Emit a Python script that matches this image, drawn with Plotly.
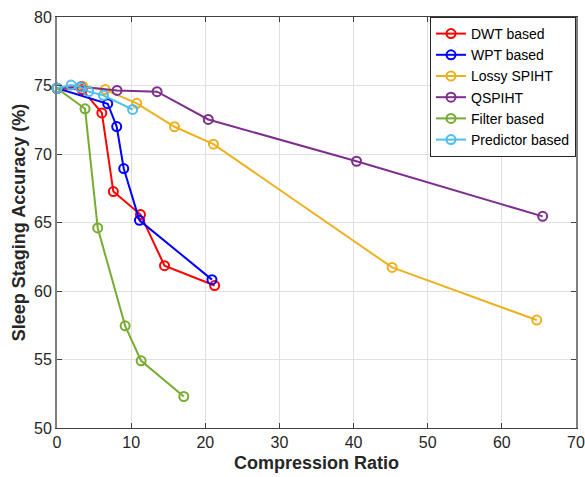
import plotly.graph_objects as go

names = ["DWT based", "WPT based", "Lossy SPIHT", "QSPIHT", "Filter based", "Predictor based"]
colors = ["#FF0000", "#0000FF", "#EDB120", "#7E2F8E", "#77AC30", "#4DBEEE"]

dwt_x = [0, 3.4, 6.05, 7.6, 11.26, 14.5, 21.26]
dwt_y = [74.8, 74.7, 73.0, 67.26, 65.58, 61.85, 60.4]

wpt_x = [0, 6.84, 8.05, 9.0, 11.12, 20.9]
wpt_y = [74.8, 73.67, 72.0, 68.94, 65.16, 60.83]

spiht_x = [0, 3.46, 6.5, 10.76, 15.85, 21.1, 45.2, 64.7]
spiht_y = [74.8, 74.95, 74.7, 73.7, 71.99, 70.72, 61.72, 57.88]

qspiht_x = [0, 3.2, 8.1, 13.5, 20.4, 40.4, 65.5]
qspiht_y = [74.8, 74.9, 74.64, 74.55, 72.52, 69.47, 65.45]

filter_x = [0, 3.78, 5.49, 9.19, 11.35, 17.1]
filter_y = [74.8, 73.3, 64.6, 57.46, 54.9, 52.3]

pred_x = [0, 1.9, 3.15, 4.27, 6.26, 10.2]
pred_y = [74.8, 75.03, 74.88, 74.55, 74.28, 73.25]

xs = [dwt_x, wpt_x, spiht_x, qspiht_x, filter_x, pred_x]
ys = [dwt_y, wpt_y, spiht_y, qspiht_y, filter_y, pred_y]

x_ticks = [0, 10, 20, 30, 40, 50, 60, 70]
y_ticks = [50, 55, 60, 65, 70, 75, 80]

fig = go.Figure()
for n, c, x, y in zip(names, colors, xs, ys):
    fig.add_trace(go.Scatter(
        x=x, y=y, name=n, mode="lines+markers",
        line=dict(color=c, width=2),
        marker=dict(symbol="circle-open", size=9, color=c, line=dict(width=2, color=c)),
        cliponaxis=False,
    ))

font = "Liberation Sans, Arial, Helvetica, sans-serif"
fig.update_layout(
    width=585, height=477,
    margin=dict(l=57, r=9, t=17, b=49, autoexpand=False),
    plot_bgcolor="white", paper_bgcolor="white",
    font=dict(family=font, size=16, color="#262626"),
    legend=dict(
        x=1, y=1, xanchor="right", yanchor="top",
        bgcolor="white", bordercolor="#262626", borderwidth=1,
        font=dict(size=14, color="#000000"),
        tracegroupgap=0, itemwidth=30,
    ),
    xaxis=dict(
        range=[0, 70], tickvals=x_ticks, ticktext=[str(v) for v in x_ticks],
        automargin=False,
        showgrid=True, gridcolor="#e0e0e0", gridwidth=1,
        showline=True, linecolor="#404040", linewidth=1, mirror="ticks",
        ticks="inside", ticklen=5, tickcolor="#404040",
        zeroline=False,
        title=dict(text="<b>Compression Ratio</b>", font=dict(size=18, color="#262626"), standoff=6),
    ),
    yaxis=dict(
        range=[50, 80], tickvals=y_ticks, ticktext=[str(v) for v in y_ticks],
        automargin=False,
        showgrid=True, gridcolor="#e0e0e0", gridwidth=1,
        showline=True, linecolor="#808080", linewidth=2, mirror="ticks",
        ticks="inside", ticklen=5, tickcolor="#404040",
        zeroline=False,
        title=dict(text="<b>Sleep Staging Accuracy (%)</b>", font=dict(size=18, color="#262626"), standoff=4),
    ),
)

fig.write_html("out.html")
